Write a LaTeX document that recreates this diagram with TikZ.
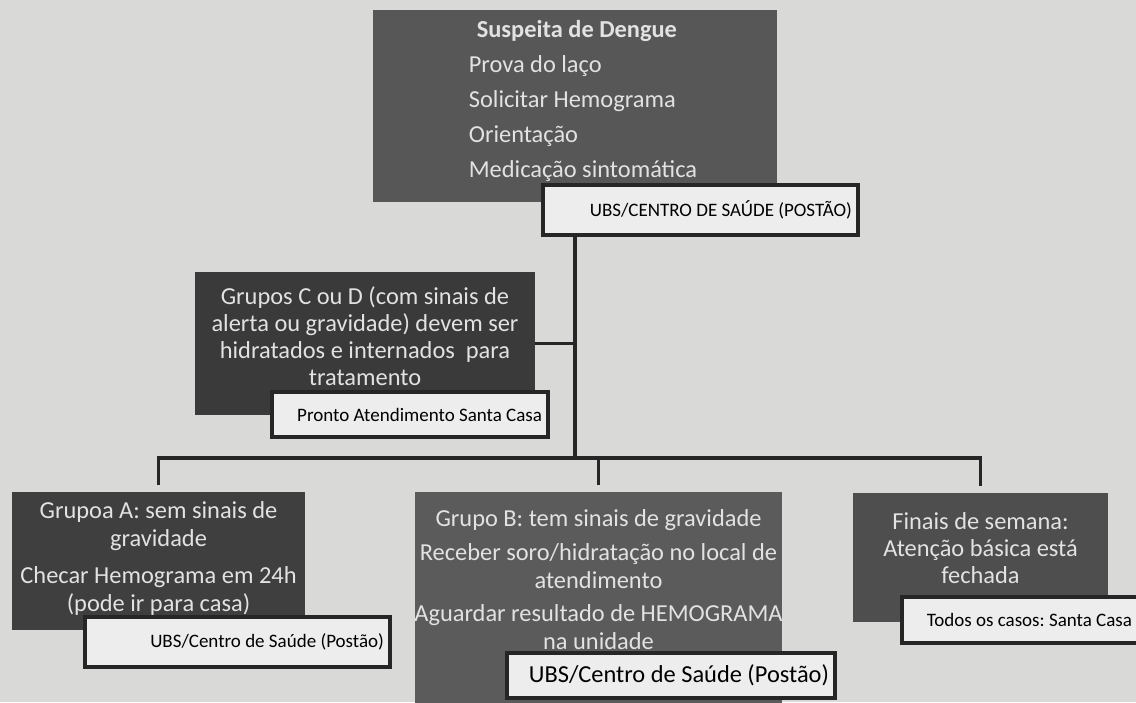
\documentclass[tikz,border=0pt]{standalone}
\usepackage{fontspec}
\setmainfont{Carlito}
\usepackage{tikz}
\usetikzlibrary{positioning}
\frenchspacing
\definecolor{paper}{HTML}{D9D9D7}
\definecolor{boxmid}{HTML}{575757}
\definecolor{boxdark}{HTML}{3A3A3A}
\definecolor{boxA}{HTML}{3F3F3F}
\definecolor{boxB}{HTML}{5B5B5B}
\definecolor{boxW}{HTML}{4E4E4E}
\definecolor{boxtext}{HTML}{E2E2E2}
\definecolor{tagfill}{HTML}{EDEDED}
\definecolor{ink}{HTML}{262626}
\tikzstyle{darkbox} = [rectangle, inner sep=0pt]
\tikzstyle{boxlines} = [inner sep=0pt, text=boxtext, align=flush center, font=\fontsize{24.4}{28}\selectfont]
\tikzstyle{tag} = [rectangle, draw=ink, line width=3.5pt, fill=tagfill, text=black, align=flush right, inner xsep=6pt, inner ysep=0pt, font=\fontsize{19}{22}\selectfont]
\tikzstyle{link} = [line width=3.5pt, draw=ink]

\begin{document}
\begin{tikzpicture}[x=1pt,y=-1pt]
    \path [use as bounding box, fill=paper] (0,0) rectangle (1136,702);

    % dark boxes
    \node (dengue) [darkbox, fill=boxmid, minimum width=404pt, minimum height=192pt] at (575,106) {};
    \node (cd) [darkbox, fill=boxdark, minimum width=340pt, minimum height=143pt] at (365,343.5) {};
    \node (grpA) [darkbox, fill=boxA, minimum width=293pt, minimum height=138pt] at (158.5,561) {};
    \node (grpB) [darkbox, fill=boxB, minimum width=367pt, minimum height=214pt] at (598.5,599) {};
    \node (weekend) [darkbox, fill=boxW, minimum width=255pt, minimum height=129pt] at (980.5,557.5) {};

    % texts in the dark boxes
    \node (denguetext) [boxlines, align=flush left, font=\fontsize{24.4}{35}\selectfont] at ([xshift=8pt, yshift=5pt]dengue.center) {\hspace*{8pt}\textbf{Suspeita de Dengue}\\Prova do laço\\Solicitar Hemograma\\Orientação\\Medicação sintomática};
    \node (cdtext) [boxlines, font=\fontsize{24.4}{27}\selectfont] at ([yshift=7pt]cd.center) {Grupos C ou D (com sinais de\\alerta ou gravidade) devem ser\\hidratados e internados\ \ para\\tratamento};
    \node (grpAtext) [boxlines] at ([yshift=3pt]grpA.center) {Grupoa A: sem sinais de\\gravidade\\[9pt]Checar Hemograma em 24h\\(pode ir para casa)};
    \node (grpBtext) [boxlines] at ([yshift=-88pt]grpB.north) {Grupo B: tem sinais de gravidade\\[6pt]Receber soro/hidratação no local de\\atendimento\\[5pt]Aguardar resultado de HEMOGRAMA\\na unidade};
    \node (weekendtext) [boxlines, font=\fontsize{24.4}{27}\selectfont] at ([yshift=9pt]weekend.center) {Finais de semana:\\Atenção básica está\\fechada};

    % place tags
    \node (ubsTop) [tag, text width=303pt, minimum height=50pt] at (700.5,210) {UBS/CENTRO DE SAÚDE (POSTÃO)};
    \node (pronto) [tag, text width=264pt, minimum height=45pt] at (410,414.5) {Pronto Atendimento Santa Casa};
    \node (ubsA) [tag, text width=293pt, minimum height=50pt] at (237.5,642) {UBS/Centro de Saúde (Postão)};
    \node (ubsB) [tag, text width=316pt, minimum height=45pt, font=\fontsize{24.4}{27}\selectfont] at (671,675.5) {UBS/Centro de Saúde (Postão)};
    \node (allSC) [tag, text width=224pt, minimum height=46pt] at (1020,620) {Todos os casos: Santa Casa};

    % connectors
    \coordinate (bus) at (575,458);
    \draw [link] (ubsTop.south -| dengue.south) -- (bus);
    \draw [link] (cd.east) -- (cd.east -| bus);
    \draw [link, shorten <=7pt, shorten >=7pt] (grpA.north) -- (grpA.north |- bus) -- (weekend.north |- bus) -- (weekend.north);
    \draw [link, shorten >=7pt] (bus -| grpB.north) -- (grpB.north);
\end{tikzpicture}
\end{document}
